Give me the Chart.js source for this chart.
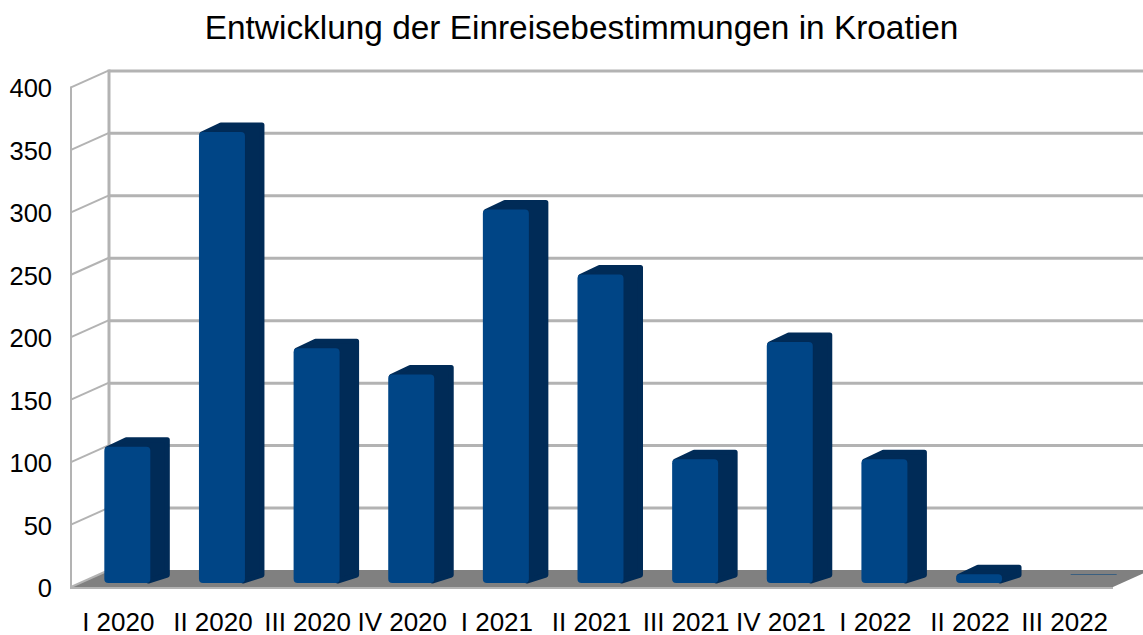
<!DOCTYPE html>
<html>
<head>
<meta charset="utf-8">
<style>
html,body{margin:0;padding:0;background:#fff;overflow:hidden}
canvas{display:block;filter:blur(0.45px)}
</style>
<script src="https://cdn.jsdelivr.net/npm/chart.js@4"></script>
</head>
<body>
<canvas id="c" width="1143" height="635"></canvas>
<script>
const categories = ["I 2020","II 2020","III 2020","IV 2020","I 2021","II 2021","III 2021","IV 2021","I 2022","II 2022","III 2022"];
const seriesValues = [109,361,188,167,299,247,99,193,99,7,0];
const titleText = "Entwicklung der Einreisebestimmungen in Kroatien";
const axisMax = 400, axisStep = 50;

const GRID = "#b3b3b3", FLOOR = "#808080", FRONT = "#004586", SIDE = "#002b57";
const DEPTH = {x:38, y:-17};       // depth of the box
const BAR_SHIFT = {x:9, y:-4};     // bar front face, from the front plane
const BAR_DEPTH = {x:20, y:-9};    // depth of a bar
const Y_LABEL_SHIFT = 3;

const box3d = {
  id:"box3d",
  afterLayout(chart){
    if(chart.titleBlock){ chart.titleBlock.left = 50; chart.titleBlock.right = 1113; }
    const y = chart.scales.y;
    if(!y._shifted){
      const orig = y._computeLabelItems;
      y._computeLabelItems = function(ca){
        const items = orig.call(this, ca);
        items.forEach(i=>{ i.options.translation = [i.options.translation[0], i.options.translation[1]+Y_LABEL_SHIFT]; });
        return items;
      };
      y._shifted = true;
    }
  },
  beforeDatasetsDraw(chart){
    const {ctx, chartArea:a, scales:{y}} = chart;
    const base = y.getPixelForValue(0);
    ctx.save();
    // floor
    ctx.fillStyle = FLOOR;
    ctx.beginPath();
    ctx.moveTo(a.left, base);
    ctx.lineTo(a.left+DEPTH.x, base+DEPTH.y);
    ctx.lineTo(a.right+1+DEPTH.x, base+DEPTH.y);
    ctx.lineTo(a.right+1, base);
    ctx.closePath(); ctx.fill();
    // grid
    ctx.strokeStyle = GRID;
    y.ticks.forEach(t=>{
      const p = y.getPixelForValue(t.value);
      ctx.lineWidth = 2;
      ctx.beginPath();
      ctx.moveTo(a.left, p);
      ctx.lineTo(a.left+DEPTH.x, p+DEPTH.y);
      ctx.stroke();
      if(t.value!==0){
        ctx.lineWidth = 3;
        ctx.beginPath();
        ctx.moveTo(a.left+DEPTH.x, p+DEPTH.y+0.5);
        ctx.lineTo(chart.width, p+DEPTH.y+0.5);
        ctx.stroke();
      }
    });
    ctx.lineWidth = 2;
    ctx.beginPath();
    ctx.moveTo(a.left, y.getPixelForValue(axisMax)-1);
    ctx.lineTo(a.left, base+1);
    ctx.lineTo(a.right+1, base+1);
    ctx.stroke();
    ctx.lineWidth = 3;
    ctx.beginPath();
    ctx.moveTo(a.left+DEPTH.x, y.getPixelForValue(axisMax)+DEPTH.y-1);
    ctx.lineTo(a.left+DEPTH.x, base+DEPTH.y);
    ctx.stroke();
    ctx.restore();
  },
  beforeDatasetDraw(chart){
    const {ctx} = chart;
    ctx.save();
    ctx.translate(BAR_SHIFT.x, BAR_SHIFT.y);
    chart.getDatasetMeta(0).data.forEach(el=>{
      const p = el.getProps(["x","y","base","width"], true);
      const l = p.x-p.width/2, r = p.x+p.width/2;
      const dx = BAR_DEPTH.x, dy = BAR_DEPTH.y;
      ctx.save();
      ctx.lineJoin = "round";
      if(Math.abs(p.base-p.y) < 0.5){
        ctx.strokeStyle = "#3a5f80";
        ctx.lineWidth = 1;
        ctx.beginPath();
        ctx.moveTo(l+dx, p.base+dy+0.5);
        ctx.lineTo(r+dx, p.base+dy+0.5);
        ctx.stroke();
      } else {
        ctx.fillStyle = SIDE; ctx.strokeStyle = SIDE; ctx.lineWidth = 5;
        ctx.beginPath();
        ctx.moveTo(l+3, p.y+2);
        ctx.lineTo(l+dx+2, p.y+dy+2);
        ctx.lineTo(r+dx-3, p.y+dy+2);
        ctx.lineTo(r+dx-3, p.base+dy+1);
        ctx.lineTo(r-2, p.base-2);
        ctx.lineTo(r-2, p.y+2);
        ctx.closePath();
        ctx.fill(); ctx.stroke();
      }
      ctx.restore();
    });
  },
  afterDatasetDraw(chart){ chart.ctx.restore(); },
  beforeDraw(chart){
    const {ctx} = chart;
    ctx.save(); ctx.fillStyle="#fff"; ctx.fillRect(0,0,chart.width,chart.height); ctx.restore();
  }
};

const canvas = document.getElementById("c");
canvas.getContext("2d",{alpha:false});
new Chart(canvas,{
  type:"bar",
  data:{labels:categories,datasets:[{
    data:seriesValues,
    backgroundColor:FRONT,
    borderRadius:4,
    borderSkipped:false,
    barPercentage:0.486,
    categoryPercentage:1,
    clip:false
  }]},
  options:{
    responsive:false,
    animation:false,
    devicePixelRatio:1,
    layout:{padding:{left:0,right:31,top:0,bottom:0}},
    plugins:{
      legend:{display:false},
      tooltip:{enabled:false},
      title:{display:true,text:titleText,color:"#000",
        font:{family:"Liberation Sans",size:33.4,weight:"normal",lineHeight:1.15},
        padding:{top:11,bottom:38}}
    },
    scales:{
      x:{
        grid:{display:false},border:{display:false},
        afterFit(s){s.height=48;},
        ticks:{autoSkip:false,maxRotation:0,minRotation:0,color:"#000",padding:13,
          font:{family:"Liberation Sans",size:26}}
      },
      y:{
        min:0,max:axisMax,
        grid:{display:false,drawTicks:false},border:{display:false},
        afterFit(s){s.width=71;},
        ticks:{stepSize:axisStep,color:"#000",padding:19,
          font:{family:"Liberation Sans",size:25.5}}
      }
    }
  },
  plugins:[box3d]
});
</script>
</body>
</html>
